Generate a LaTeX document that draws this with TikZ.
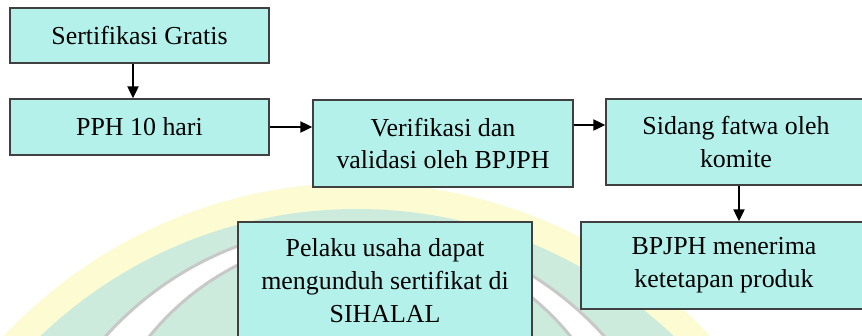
\documentclass[tikz,border=0pt]{standalone}
\usepackage{fontspec}
\setmainfont{Liberation Serif}
\usetikzlibrary{arrows.meta}
\definecolor{boxfill}{HTML}{B4F1EB}
\definecolor{boxline}{HTML}{404040}
\definecolor{wmyellow}{HTML}{FCFBD2}
\definecolor{wmmint}{HTML}{CDEBDD}
\definecolor{wmgray}{HTML}{C8C8C8}
\tikzset{
  stepbox/.style={draw=boxline, fill=boxfill, line width=1.3bp, align=center,
    inner sep=0pt, font=\fontsize{26}{33}\selectfont},
  arr/.style={line width=2bp, black, -{Triangle[length=12bp,width=11bp]}}
}
\begin{document}
\begin{tikzpicture}[x=1bp,y=-1bp]
\useasboundingbox (0,0) rectangle (862,335);
\clip (0,0) rectangle (862,335);
\fill[white] (0,0) rectangle (862,335);
% watermark
\fill[wmyellow] (357,667) circle[radius=484bp];
\fill[wmmint] (357,667) circle[radius=458bp];
\draw[wmgray, fill=white, line width=3bp] (355,560) circle[radius=335bp];
\draw[wmgray, fill=wmmint, line width=3bp] (360,507) circle[radius=271bp];
% boxes
\node[stepbox, minimum width=259bp, minimum height=55bp] (s1) at (139.5,35.5) {Sertifikasi Gratis};
\node[stepbox, minimum width=259bp, minimum height=56bp] (s2) at (139.5,127) {PPH 10 hari};
\node[stepbox, minimum width=260bp, minimum height=87bp] (s3) at (443,143.5) {Verifikasi dan\\validasi oleh BPJPH};
\node[stepbox, minimum width=260bp, minimum height=86bp] (s4) at (736,142) {Sidang fatwa oleh\\komite};
\node[stepbox, minimum width=286bp, minimum height=87bp] (s5) at (724,265.5) {BPJPH menerima\\ketetapan produk};
\node[stepbox, minimum width=294bp, minimum height=118bp] (s6) at (385,281) {Pelaku usaha dapat\\mengunduh sertifikat di\\SIHALAL};
% arrows
\draw[arr] ([xshift=-6.5bp]s1.south) -- ([xshift=-6.5bp]s2.north);
\draw[arr] (s2.east) -- (s2.east -| s3.west);
\draw[arr] ([yshift=18.5bp]s3.east) -- ([yshift=18.5bp]s3.east -| s4.west);
\draw[arr] ([xshift=3bp]s4.south) -- ([xshift=3bp]s4.south |- s5.north);
\end{tikzpicture}
\end{document}
